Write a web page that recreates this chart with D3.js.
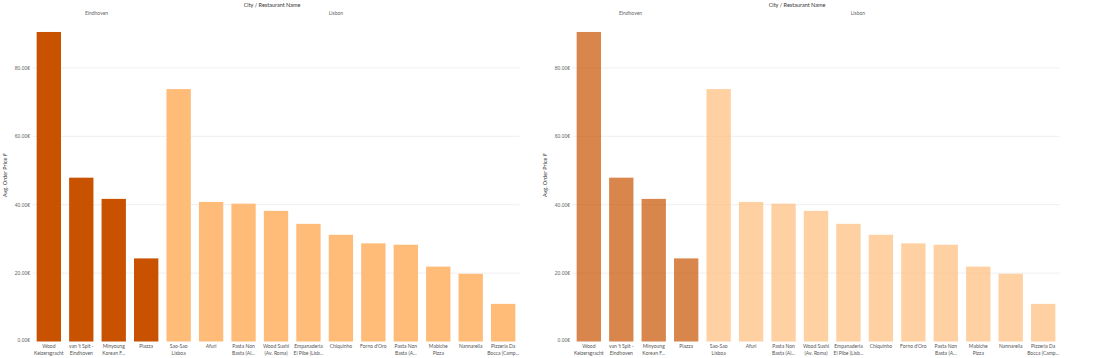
<!DOCTYPE html>
<html>
<head>
<meta charset="utf-8">
<script src="https://cdn.jsdelivr.net/npm/d3@7/dist/d3.min.js"></script>
<style>
  html, body { margin: 0; padding: 0; background: #fff; }
  svg { display: block; font-family: Lato, "Open Sans", sans-serif; }
</style>
</head>
<body>
<svg id="chart" width="1114" height="358"></svg>
<script>
// ---- data ----
const restaurants = [
  "Wood Keizersgracht", "van 't Spit - Eindhoven", "Minyoung Korean F...", "Piazza",
  "Sao-Sao Lisboa", "Afuri", "Pasta Non Basta (Al...", "Wood Sushi (Av. Roma)",
  "Empanaderia El Pibe (Lisb...", "Chiquinho", "Forno d'Oro", "Pasta Non Basta (A...",
  "Mabiche Pizza", "Nannarella", "Pizzeria Da Bocca (Camp..."
];
const labelLine1 = ["Wood", "van 't Spit -", "Minyoung", "Piazza", "Sao-Sao", "Afuri", "Pasta Non",
  "Wood Sushi", "Empanaderia", "Chiquinho", "Forno d'Oro", "Pasta Non", "Mabiche", "Nannarella", "Pizzeria Da"];
const labelLine2 = ["Keizersgracht", "Eindhoven", "Korean F...", "", "Lisboa", "", "Basta (Al...",
  "(Av. Roma)", "El Pibe (Lisb...", "", "", "Basta (A...", "Pizza", "", "Bocca (Camp..."];
const cities = ["Eindhoven", "Eindhoven", "Eindhoven", "Eindhoven",
  "Lisbon", "Lisbon", "Lisbon", "Lisbon", "Lisbon", "Lisbon", "Lisbon", "Lisbon", "Lisbon", "Lisbon", "Lisbon"];
const avgOrderPrice = [90.5, 47.9, 41.7, 24.3, 73.8, 40.8, 40.3, 38.2, 34.4, 31.2, 28.7, 28.3, 21.9, 19.8, 11.0];
const yTicks = [0, 20, 40, 60, 80];
const cityNames = ["Eindhoven", "Lisbon"];
const cityColors = ["#c85200", "#ffbc79"];

// ---- drawing ----
const svg = d3.select("#chart");
const color = d3.scaleOrdinal().domain(cityNames).range(cityColors);
const fmt = d => d3.format(".2f")(d) + "€";

function drawPanel(offsetX, opacity, titleDx, eindDx, lisDx) {
  const g = svg.append("g").attr("transform", `translate(${offsetX},0)`);
  const x = d3.scaleBand().domain(restaurants).range([32.6, 519.4])
    .paddingInner(0.25).paddingOuter(0.125);
  const y = d3.scaleLinear().domain([0, 94]).range([341.5, 20]);

  // gridlines
  g.append("g").selectAll("line").data(yTicks.filter(t => t > 0)).join("line")
    .attr("x1", 32.6).attr("x2", 519.4)
    .attr("y1", d => y(d)).attr("y2", d => y(d))
    .attr("stroke", "#efefef").attr("stroke-width", 1);

  // y axis
  const yAxis = d3.axisLeft(y).tickValues(yTicks).tickFormat(fmt).tickSize(0).tickPadding(3);
  const ya = g.append("g").attr("transform", "translate(30,0)").call(yAxis);
  ya.select(".domain").remove();
  ya.selectAll("text").attr("fill", "#666").attr("font-size", 5)
    .attr("x", 0)
    .attr("dy", d => d === 0 ? "-0.1em" : "0.32em");

  g.append("text")
    .attr("transform", `translate(7,175) rotate(-90)`)
    .attr("text-anchor", "middle")
    .attr("font-size", 5.5).attr("fill", "#333")
    .text("Avg. Order Price ₣");

  // bars
  g.append("g").selectAll("rect").data(restaurants).join("rect")
    .attr("x", d => x(d))
    .attr("width", x.bandwidth())
    .attr("y", (d, i) => y(avgOrderPrice[i]))
    .attr("height", (d, i) => y(0) - y(avgOrderPrice[i]))
    .attr("fill", (d, i) => color(cities[i]))
    .attr("fill-opacity", opacity);

  // x labels
  const lab = g.append("g").selectAll("text").data(restaurants).join("text")
    .attr("text-anchor", "middle")
    .attr("font-size", 5).attr("fill", "#555")
    .attr("transform", d => `translate(${x(d) + x.bandwidth() / 2},0)`);
  lab.append("tspan").attr("x", 0).attr("y", 347.5).text((d, i) => labelLine1[i]);
  lab.append("tspan").attr("x", 0).attr("y", 354.5).text((d, i) => labelLine2[i]);

  // headers
  const panelCenter = (32.6 + 519.4) / 2;
  g.append("text").attr("x", panelCenter + titleDx).attr("y", 7)
    .attr("text-anchor", "middle").attr("font-size", 5.5).attr("fill", "#333")
    .text("City / Restaurant Name");
  cityNames.forEach((c, ci) => {
    const idx = restaurants.filter((r, i) => cities[i] === c);
    const x0 = x(idx[0]), x1 = x(idx[idx.length - 1]) + x.bandwidth();
    g.append("text").attr("x", (x0 + x1) / 2 + (ci === 0 ? eindDx : lisDx)).attr("y", 15)
      .attr("text-anchor", "middle").attr("font-size", 5).attr("fill", "#666")
      .text(c);
  });
}

drawPanel(0, 1, -4, -1, -5);
drawPanel(540, 0.7, -19, -7, -23);
</script>
</body>
</html>
